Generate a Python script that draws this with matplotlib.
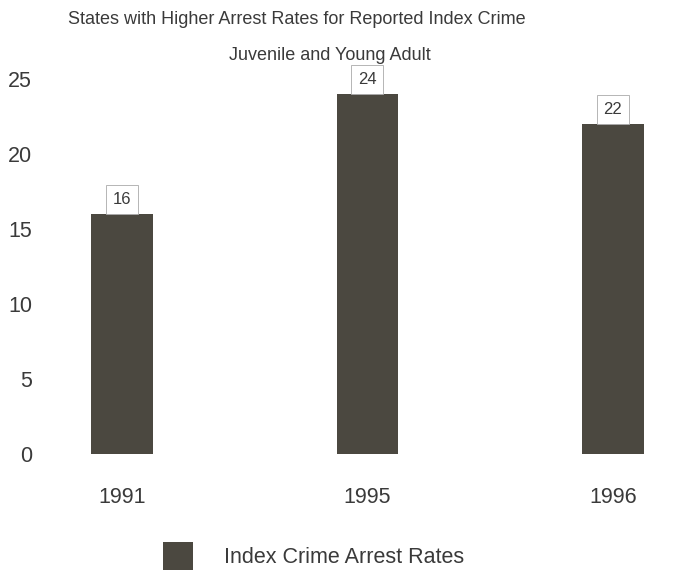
"""Index crime arrest rates bar chart (juvenile and young adult)."""

import matplotlib

matplotlib.use("Agg")
import matplotlib.pyplot as plt

years = ["1991", "1995", "1996"]
arrest_rates = [16, 24, 22]
y_ticks = [0, 5, 10, 15, 20, 25]

BAR_COLOR = "#4b4840"
TEXT_COLOR = "#3a3a3a"

plt.rcParams["font.family"] = ["Liberation Sans", "DejaVu Sans"]

fig = plt.figure(figsize=(6.75, 5.71), dpi=100)
ax = fig.add_axes([50 / 675, 1 - 454 / 571, 625 / 675, (26.5 * 15) / 571])

x = list(range(len(years)))
bars = ax.bar(x, arrest_rates, width=0.25, color=BAR_COLOR,
              label="Index Crime Arrest Rates")

for rect, val in zip(bars, arrest_rates):
    ax.annotate(
        f"{val}",
        xy=(rect.get_x() + rect.get_width() / 2, rect.get_height()),
        xytext=(0, 5), textcoords="offset points",
        ha="center", va="bottom", fontsize=12, color=TEXT_COLOR,
        bbox=dict(boxstyle="square,pad=0.4", fc="white", ec="#aaaaaa", lw=0.6),
    )

ax.set_xlim(-0.293, 2.253)
ax.set_ylim(0, 26.5)
ax.set_yticks(y_ticks)
ax.set_xticks(x)
ax.set_xticklabels(years)
ax.tick_params(axis="y", length=0, pad=13, labelsize=15.5, labelcolor=TEXT_COLOR)
ax.tick_params(axis="x", length=0, pad=24, labelsize=15.5, labelcolor=TEXT_COLOR)
for side in ax.spines.values():
    side.set_visible(False)

fig.text(297 / 675, 1 - 20 / 571, "States with Higher Arrest Rates for Reported Index Crime",
         ha="center", va="center", fontsize=13, color=TEXT_COLOR)
fig.text(330 / 675, 1 - 55 / 571, "Juvenile and Young Adult",
         ha="center", va="center", fontsize=13, color=TEXT_COLOR)

fig.legend(
    loc="center left", bbox_to_anchor=(163 / 675, 1 - 556 / 571),
    frameon=False, fontsize=15.5, handlelength=1.4, handleheight=1.6,
    handletextpad=1.45, borderpad=0, borderaxespad=0, labelcolor=TEXT_COLOR,
)

fig.savefig("out.png", dpi=100)
